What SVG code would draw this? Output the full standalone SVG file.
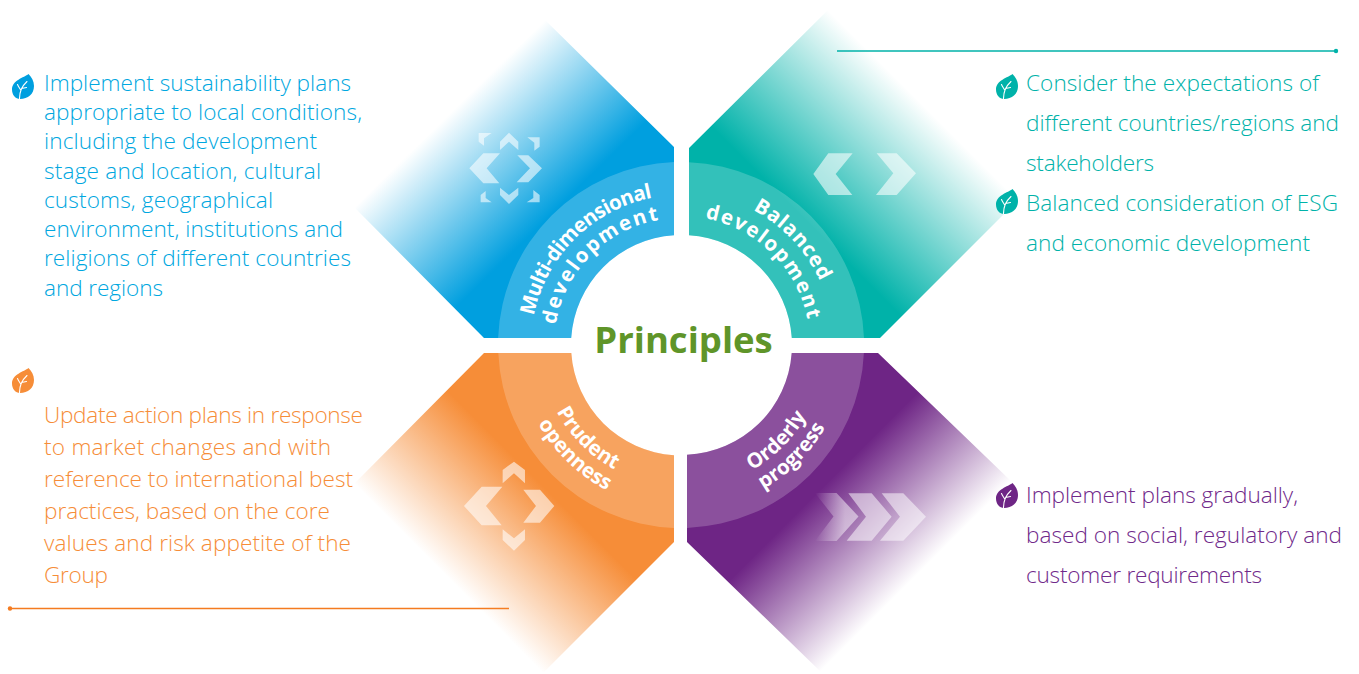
<svg xmlns="http://www.w3.org/2000/svg" width="1359" height="674" viewBox="0 0 1359 674">
<style>
text{font-family:"Open Sans","Noto Sans","Liberation Sans",sans-serif}
.body{font-size:22.6px;font-weight:300}
.blue{fill:#00A7E0}.teal{fill:#00B2A9}.orange{fill:#F68D38}.purple{fill:#70298A}
.ring{fill:#fff;fill-opacity:.2}
.lab{fill:#fff;font-size:20.5px;font-weight:700;text-anchor:middle}
.ico{fill:#fff;fill-opacity:.58}
.vein{fill:none;stroke:#fff;stroke-width:1.1;stroke-linecap:round}
</style>
<defs>
<linearGradient id="gB" gradientUnits="userSpaceOnUse" x1="530" y1="235" x2="430" y2="133"><stop offset="0" stop-color="#009FDF"/><stop offset="1" stop-color="#009FDF" stop-opacity="0"/></linearGradient>
<linearGradient id="gT" gradientUnits="userSpaceOnUse" x1="800" y1="215" x2="916.5" y2="98.5"><stop offset="0" stop-color="#00B2A9"/><stop offset="1" stop-color="#00B2A9" stop-opacity="0"/></linearGradient>
<linearGradient id="gO" gradientUnits="userSpaceOnUse" x1="500" y1="443" x2="406.5" y2="536.5"><stop offset="0" stop-color="#F68D38"/><stop offset="1" stop-color="#F68D38" stop-opacity="0"/></linearGradient>
<linearGradient id="gP" gradientUnits="userSpaceOnUse" x1="790" y1="520" x2="881" y2="611"><stop offset="0" stop-color="#6E2585"/><stop offset="1" stop-color="#6E2585" stop-opacity="0"/></linearGradient>
<linearGradient id="gC" gradientUnits="userSpaceOnUse" x1="815" y1="0" x2="845" y2="0"><stop offset="0" stop-color="#fff" stop-opacity="0"/><stop offset="1" stop-color="#fff" stop-opacity=".5"/></linearGradient>
<symbol id="leaf" overflow="visible">
<path fill="currentColor" d="M16.5 0C12 3.5 0 6.5 0 15.5C0 21 3.5 25 8 25C16 25 22 20 22 12C22 7 19.5 3 16.5 0Z"/>
<path class="vein" d="M7.5 24.5C7.5 18 9 13 15 7.5M8.7 16C7.5 14 6.5 13 5.5 10.5M9.5 14.5L14.5 13.5"/>
</symbol>
<path id="a150" d="M531 345A150 150 0 0 1 681 195"/>
<path id="a127" d="M554 345A127 127 0 0 1 681 218"/>
<path id="b153" d="M681 192A153 153 0 0 1 834 345"/>
<path id="b129" d="M681 216A129 129 0 0 1 810 345"/>
<path id="c141" d="M540 345A141 141 0 0 0 681 486"/>
<path id="c163" d="M518 345A163 163 0 0 0 681 508"/>
<path id="d144" d="M681 489A144 144 0 0 0 825 345"/>
<path id="d166" d="M681 511A166 166 0 0 0 847 345"/>
</defs>

<g id="connectors">
<path d="M837 51H1336" stroke="#00B2A9" stroke-width="1.4" fill="none"/><circle cx="1336" cy="51" r="2.2" fill="#00B2A9"/>
<path d="M10 608.5H509" stroke="#F47B20" stroke-width="1.4" fill="none"/><circle cx="10" cy="608.5" r="2.2" fill="#F47B20"/>
</g>

<g id="node-multi-dimensional">
<path fill="url(#gB)" d="M674 147L542 17L355 208L484 338H571.2A110 110 0 0 1 674 235.2Z"/>
<path class="ring" d="M674 162.1A183 183 0 0 0 498.1 338H571.2A110 110 0 0 1 674 235.2Z"/>
<g class="ico" transform="translate(340 0) scale(.3333)">
<path d="M388 505L430 460H480L440 505L478 550H430Z"/><path d="M606 505L565 466H532L570 505L530 547H565Z"/>
<path d="M507 398L535 425V450L507 425L480 450V425Z"/><path d="M507 612L535 585V563L507 585L480 563V585Z"/>
<path d="M416 399H455L432 415V437L416 425Z"/><path d="M599 412H562L583 428V452L599 440Z"/><path d="M422 607H455L437 594V573L422 585Z"/><path d="M599 607H560L580 594V570L599 585Z"/>
</g>
<text class="lab" letter-spacing="-.6"><textPath href="#a150" startOffset="50%">Multi-dimensional</textPath></text>
<text class="lab" letter-spacing="2.1"><textPath href="#a127" startOffset="50%">development</textPath></text>
<use href="#leaf" x="12" y="74" color="#009FDF"/>
<g class="body blue">
<text x="44" y="91" textLength="307">Implement sustainability plans</text>
<text x="44" y="120" textLength="318">appropriate to local conditions,</text>
<text x="44" y="149" textLength="273">including the development</text>
<text x="44" y="179" textLength="277">stage and location, cultural</text>
<text x="44" y="208" textLength="229">customs, geographical</text>
<text x="44" y="237" textLength="299">environment, institutions and</text>
<text x="44" y="266" textLength="307">religions of different countries</text>
<text x="44" y="296" textLength="119">and regions</text>
</g>
</g>

<g id="node-balanced">
<path fill="url(#gT)" d="M689 148L828 10L1018 200L880 338H791.8A110 110 0 0 0 689 235.3Z"/>
<path class="ring" d="M689 162.2A183 183 0 0 1 864 338H791.8A110 110 0 0 0 689 235.3Z"/>
<g class="ico" transform="translate(680 0) scale(.3333)">
<path d="M400 522L445 460H518L467 522L517 585H445Z"/><path d="M708 520L650 460H590L640 520L588 585H650Z"/>
</g>
<text class="lab" letter-spacing=".8"><textPath href="#b153" startOffset="52%">Balanced</textPath></text>
<text class="lab" letter-spacing="1.7"><textPath href="#b129" startOffset="50%">development</textPath></text>
<use href="#leaf" x="996" y="74" color="#00B2A9"/>
<use href="#leaf" x="996" y="189" color="#00B2A9"/>
<g class="body teal">
<text x="1026" y="91" textLength="293">Consider the expectations of</text>
<text x="1026" y="131" textLength="313">different countries/regions and</text>
<text x="1026" y="171" textLength="128">stakeholders</text>
<text x="1026" y="211" textLength="312">Balanced consideration of ESG</text>
<text x="1026" y="251" textLength="284">and economic development</text>
</g>
</g>

<g id="node-prudent">
<path fill="url(#gO)" d="M484 353L355 483L543 673L674 542V455.2A110 110 0 0 1 571.3 353Z"/>
<path class="ring" d="M498.3 353A183 183 0 0 0 674 527.9V455.2A110 110 0 0 1 571.3 353Z"/>
<g class="ico" transform="translate(340 340) scale(.3333)">
<path d="M372 498L425 440H487L438 498L485 556H425Z"/><path d="M643 498L600 449H550L588 498L550 548H600Z"/>
<path d="M522 365L555 390V430L522 400L488 430V390Z"/><path d="M522 632L555 600V568L522 595L488 568V600Z"/>
</g>
<text class="lab"><textPath href="#c141" startOffset="50%">Prudent</textPath></text>
<text class="lab"><textPath href="#c163" startOffset="51%">openness</textPath></text>
<use href="#leaf" x="12" y="368" color="#F68D38"/>
<g class="body orange">
<text x="44" y="423" textLength="319">Update action plans in response</text>
<text x="44" y="455" textLength="287">to market changes and with</text>
<text x="44" y="487" textLength="309">reference to international best</text>
<text x="44" y="519" textLength="286">practices, based on the core</text>
<text x="44" y="551" textLength="307">values and risk appetite of the</text>
<text x="44" y="583" textLength="64">Group</text>
</g>
</g>

<g id="node-orderly">
<path fill="url(#gP)" d="M687 542V454.8A110 110 0 0 0 791.7 353H878L1012 482L822 673Z"/>
<path class="ring" d="M687 527.9A183 183 0 0 0 863.9 353H791.7A110 110 0 0 1 687 454.8Z"/>
<path fill="url(#gC)" d="M815 493H836.5L858.5 516.5L836.5 541H815L833.5 516.5Z"/>
<g class="ico" transform="translate(680 340) scale(.3333)" style="fill-opacity:.52">
<path d="M505 460H575L635 530L575 602H500L558 530Z"/>
<path d="M605 460H670L738 530L670 602H600L660 530Z"/>
</g>
<text class="lab"><textPath href="#d144" startOffset="50%">Orderly</textPath></text>
<text class="lab"><textPath href="#d166" startOffset="50%">progress</textPath></text>
<use href="#leaf" x="996" y="483" color="#6E2585"/>
<g class="body purple">
<text x="1026" y="503" textLength="272">Implement plans gradually,</text>
<text x="1026" y="543" textLength="316">based on social, regulatory and</text>
<text x="1026" y="583" textLength="236">customer requirements</text>
</g>
</g>

<g id="node-principles">
<text x="683.5" y="353" text-anchor="middle" font-size="36.5" font-weight="700" fill="#5F9529">Principles</text>
</g>
</svg>
